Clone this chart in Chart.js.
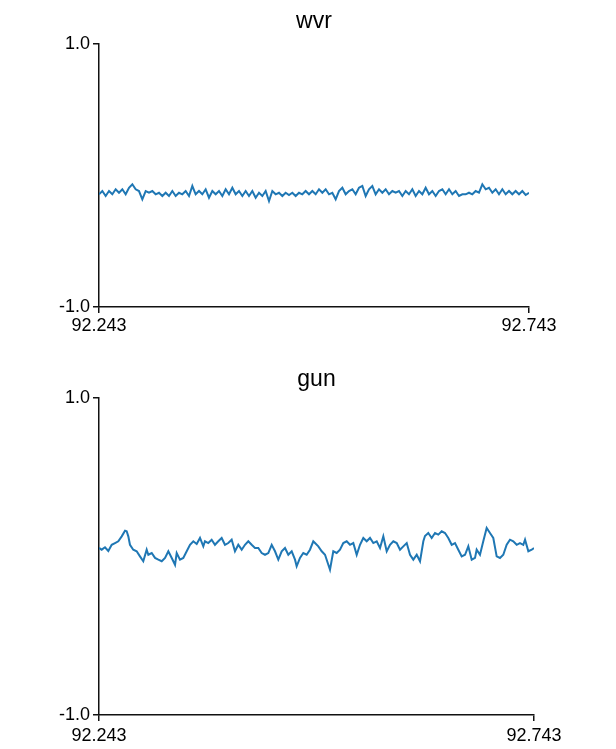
<!DOCTYPE html>
<html>
<head>
<meta charset="utf-8">
<script src="https://cdn.jsdelivr.net/npm/chart.js@4.4.1/dist/chart.umd.min.js"></script>
<style>
  html, body { margin: 0; padding: 0; background: #fff; }
  body { width: 616px; height: 749px; position: relative; overflow: hidden; }
  .box { position: absolute; left: 0; width: 616px; }
  #c1box { top: 0; height: 350px; }
  #c2box { top: 350px; height: 399px; }
</style>
</head>
<body>
<div class="box" id="c1box"><canvas id="c1"></canvas></div>
<div class="box" id="c2box"><canvas id="c2"></canvas></div>
<script>
// ---- data ----
const titles = ["wvr", "gun"];
const xStart = 92.243;
const xEnd = 92.743;
const xTicks = [92.243, 92.743];
const yTicks = [-1.0, 1.0];

// wvr: values read left to right at an even sampling step across the x range
const wvrValues = [
  -0.143,-0.118,-0.156,-0.118,-0.143,-0.105,-0.131,-0.105,-0.143,-0.093,
  -0.067,-0.105,-0.118,-0.181,-0.118,-0.131,-0.118,-0.143,-0.131,-0.156,
  -0.131,-0.156,-0.118,-0.156,-0.131,-0.143,-0.118,-0.156,-0.080,-0.143,
  -0.118,-0.143,-0.105,-0.169,-0.118,-0.143,-0.118,-0.156,-0.105,-0.143,
  -0.093,-0.143,-0.118,-0.156,-0.118,-0.156,-0.118,-0.169,-0.131,-0.156,
  -0.118,-0.194,-0.118,-0.143,-0.131,-0.156,-0.131,-0.148,-0.131,-0.156,
  -0.131,-0.143,-0.118,-0.143,
  -0.118,-0.143,-0.105,-0.131,-0.105,-0.143,-0.131,-0.181,-0.118,-0.093,
  -0.143,-0.118,-0.105,-0.143,-0.093,-0.080,-0.156,-0.105,-0.080,-0.143,
  -0.105,-0.131,-0.105,-0.143,-0.118,-0.131,-0.118,-0.156,-0.118,-0.143,
  -0.105,-0.156,-0.118,-0.143,-0.093,-0.143,-0.118,-0.156,-0.118,-0.105,
  -0.143,-0.105,-0.143,-0.118,-0.156,-0.143,-0.143,-0.131,-0.143,-0.118,
  -0.131,-0.067,-0.105,-0.093,-0.131,-0.105,-0.143,-0.105,-0.143,-0.118,
  -0.143,-0.118,-0.143,-0.118,-0.148,-0.131
];

// gun: times and values
const gunTimes = [
  92.2430,92.2461,92.2499,92.2537,92.2576,92.2614,92.2652,92.2691,92.2729,92.2748,
  92.2767,92.2786,92.2824,92.2863,92.2901,92.2939,92.2978,92.2997,92.3036,92.3074,
  92.3112,92.3151,92.3189,92.3227,92.3266,92.3304,92.3323,92.3361,92.3399,92.3438,
  92.3476,92.3514,92.3553,92.3591,92.3629,92.3648,92.3686,92.3725,92.3763,92.3801,
  92.3840,92.3878,92.3916,92.3955,92.3993,92.4031,92.4070,92.4108,92.4146,92.4185,
  92.4223,92.4261,92.4300,92.4338,92.4376,92.4415,92.4453,92.4491,92.4530,92.4568,
  92.4606,92.4645,92.4683,92.4702,92.4740,92.4778,92.4817,92.4855,92.4893,92.4913,
  92.4951,92.4990,92.5028,92.5066,92.5085,92.5123,92.5162,92.5200,92.5238,92.5277,
  92.5315,92.5353,92.5392,92.5430,92.5468,92.5507,92.5545,92.5583,92.5622,92.5660,
  92.5698,92.5737,92.5775,92.5813,92.5852,92.5890,92.5928,92.5967,92.6005,92.6043,
  92.6082,92.6120,92.6139,92.6158,92.6177,92.6215,92.6254,92.6292,92.6330,92.6369,
  92.6407,92.6445,92.6484,92.6522,92.6560,92.6599,92.6637,92.6675,92.6714,92.6752,
  92.6771,92.6809,92.6847,92.6886,92.6924,92.6962,92.7001,92.7039,92.7077,92.7116,
  92.7154,92.7192,92.7231,92.7269,92.7307,92.7327,92.7365,92.7404,92.7430
];
const gunValues = [
  0.054,0.043,0.058,0.035,0.074,0.085,0.096,0.127,0.163,0.159,
  0.127,0.074,0.043,0.033,0.001,-0.030,0.043,0.011,0.022,-0.009,
  -0.020,-0.030,-0.009,0.033,-0.009,-0.052,0.022,-0.020,-0.009,0.033,
  0.074,0.096,0.079,0.117,0.064,0.096,0.085,0.106,0.074,0.096,
  0.117,0.074,0.085,0.106,0.033,0.074,0.043,0.074,0.096,0.074,
  0.054,0.054,0.022,0.011,0.022,0.074,0.033,-0.020,0.033,0.054,
  0.011,0.033,-0.020,-0.062,-0.009,0.022,0.011,0.043,0.096,0.085,
  0.064,0.033,0.011,-0.052,-0.083,0.033,0.022,0.043,0.085,0.096,
  0.074,0.085,0.011,0.074,0.117,0.096,0.117,0.085,0.096,0.054,
  0.127,0.033,0.074,0.096,0.085,0.043,0.064,0.085,0.011,-0.020,
  0.011,-0.030,0.033,0.096,0.129,0.148,0.117,0.148,0.138,0.159,
  0.148,0.117,0.074,0.085,0.043,0.001,0.011,0.064,-0.020,-0.009,
  0.043,0.011,0.096,0.180,0.148,0.117,0.001,-0.009,0.011,0.074,
  0.106,0.096,0.074,0.085,0.074,0.106,0.033,0.043,0.054
];

// ---- build point lists ----
const wvrPoints = wvrValues.map((v, i) => ({
  x: xStart + (xEnd - xStart) * i / (wvrValues.length - 1),
  y: v
}));
const gunPoints = gunValues.map((v, i) => ({ x: gunTimes[i], y: v }));

const FONT = "'Liberation Sans', Arial, sans-serif";
const LINE_COLOR = '#1f77b4';
const AXIS_COLOR = '#111';

// title centred over the plot area
const plotTitle = {
  id: 'plotTitle',
  afterDraw(chart, args, opts) {
    const ctx = chart.ctx;
    const ca = chart.chartArea;
    ctx.save();
    ctx.font = opts.size + 'px ' + FONT;
    ctx.fillStyle = '#000';
    ctx.textAlign = 'center';
    ctx.textBaseline = 'alphabetic';
    ctx.fillText(opts.text, (ca.left + ca.right) / 2, opts.baseline);
    ctx.restore();
  }
};

function makeChart(canvasId, title, points, cfg) {
  return new Chart(document.getElementById(canvasId), {
    type: 'line',
    plugins: [plotTitle],
    data: {
      datasets: [{
        data: points,
        borderColor: LINE_COLOR,
        borderWidth: 2,
        pointRadius: 0,
        tension: 0,
        fill: false
      }]
    },
    options: {
      responsive: true,
      maintainAspectRatio: false,
      animation: false,
      events: [],
      layout: { padding: { left: 0, right: cfg.right, top: cfg.top, bottom: 0 } },
      plugins: {
        legend: { display: false },
        tooltip: { enabled: false },
        title: { display: false },
        plotTitle: { text: title, size: 23, baseline: cfg.titleBaseline }
      },
      scales: {
        x: {
          type: 'linear',
          min: xStart,
          max: xEnd,
          afterBuildTicks: (s) => { s.ticks = xTicks.map(v => ({ value: v })); },
          afterFit: (s) => { s.height = cfg.xAxisH; },
          ticks: {
            color: '#000',
            font: { family: FONT, size: 18 },
            padding: cfg.xPad,
            maxRotation: 0,
            autoSkip: false,
            callback: (v) => Number(v).toFixed(3)
          },
          grid: { drawOnChartArea: false, drawTicks: true, tickLength: 6, color: AXIS_COLOR, lineWidth: 1.5 },
          border: { display: true, color: AXIS_COLOR, width: 1.5 }
        },
        y: {
          type: 'linear',
          min: -1,
          max: 1,
          afterBuildTicks: (s) => { s.ticks = yTicks.map(v => ({ value: v })); },
          afterFit: (s) => { s.width = cfg.yAxisW; },
          ticks: {
            color: '#000',
            font: { family: FONT, size: 18 },
            padding: 3,
            autoSkip: false,
            callback: (v) => Number(v).toFixed(1)
          },
          grid: { drawOnChartArea: false, drawTicks: true, tickLength: 6, color: AXIS_COLOR, lineWidth: 1.5 },
          border: { display: true, color: AXIS_COLOR, width: 1.5 }
        }
      }
    }
  });
}

makeChart('c1', titles[0], wvrPoints, { right: 87, top: 44, titleBaseline: 28, xAxisH: 43, yAxisW: 99, xPad: 2 });
makeChart('c2', titles[1], gunPoints, { right: 82, top: 48, titleBaseline: 36, xAxisH: 34, yAxisW: 99, xPad: 4 });
</script>
</body>
</html>
